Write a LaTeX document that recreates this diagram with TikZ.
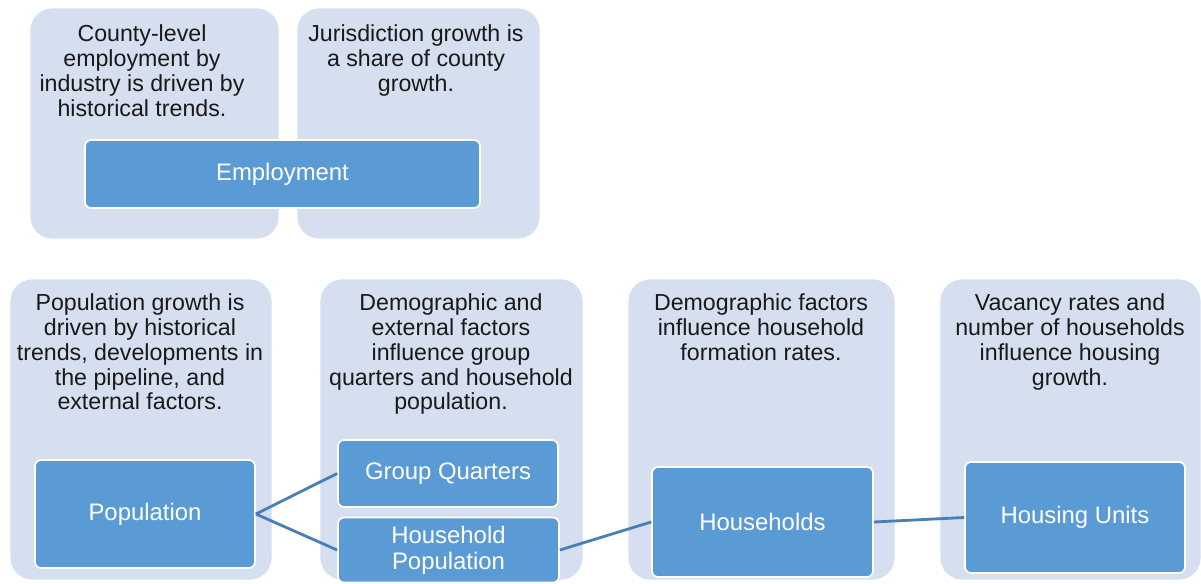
\documentclass[tikz,border=0pt]{standalone}
\usepackage{fontspec}
\setmainfont{Liberation Sans}
\definecolor{bgblue}{RGB}{214,223,239}
\definecolor{boxblue}{RGB}{91,155,213}
\definecolor{linkblue}{RGB}{74,126,187}
\begin{document}
\begin{tikzpicture}[x=0.02cm,y=-0.02cm,
  bgbox/.style={fill=bgblue,draw=white,rounded corners=0.44cm,minimum height=6.02cm,inner sep=0pt},
  note/.style={anchor=north,align=center,inner sep=0pt,font=\fontsize{13.2}{14.2}\selectfont,text=black!90},
  stage/.style={fill=boxblue,draw=white,line width=1pt,rounded corners=0.12cm,text=white,align=center,
    minimum width=4.4cm,font=\fontsize{13.6}{14.6}\selectfont},
  link/.style={draw=linkblue,line width=1.6pt}]
\useasboundingbox (0,0) rectangle (1201,583);
\node[bgbox,minimum width=4.98cm,minimum height=4.62cm] (empbgA) at (154.5,123.5) {};
\node[bgbox,minimum width=4.86cm,minimum height=4.62cm] (empbgB) at (418.5,123.5) {};
\node[note] (empnoteA) at (142,24) {County-level\\employment by\\industry is driven by\\historical trends.};
\node[note] (empnoteB) at (416,24) {Jurisdiction growth is\\a share of county\\growth.};
\node[stage,minimum width=7.9cm,minimum height=1.36cm] (emp) at (282.5,174) {Employment};
\node[bgbox,minimum width=5.24cm] (popbg) at (141,429.5) {};
\node[bgbox,minimum width=5.26cm] (hhpopbg) at (451.5,429.5) {};
\node[bgbox,minimum width=5.34cm] (hhbg) at (761.5,429.5) {};
\node[bgbox,minimum width=5.22cm] (hubg) at (1070.5,429.5) {};
\node[note] (popnote) at (140,293) {Population growth is\\driven by historical\\trends, developments in\\the pipeline, and\\external factors.};
\node[note] (hhpopnote) at (451,293) {Demographic and\\external factors\\influence group\\quarters and household\\population.};
\node[note] (hhnote) at (761,293) {Demographic factors\\influence household\\formation rates.};
\node[note] (hunote) at (1070,293) {Vacancy rates and\\number of households\\influence housing\\growth.};
\node[stage,minimum height=2.16cm] (pop) at (145,514) {Population};
\node[stage,minimum height=1.34cm] (gq) at (448,473.5) {Group Quarters};
\node[stage,minimum width=4.42cm,minimum height=1.3cm] (hhp) at (448.5,550) {Household\\Population};
\node[stage,minimum width=4.42cm,minimum height=2.2cm] (hh) at (762.5,522) {Households};
\node[stage,minimum height=2.22cm] (hu) at (1075,517.5) {Housing Units};
\draw[link] (pop.east) -- (gq.west);
\draw[link] (pop.east) -- (hhp.west);
\draw[link] (hhp.east) -- (hh.west);
\draw[link] (hh.east) -- (hu.west);
\end{tikzpicture}
\end{document}
